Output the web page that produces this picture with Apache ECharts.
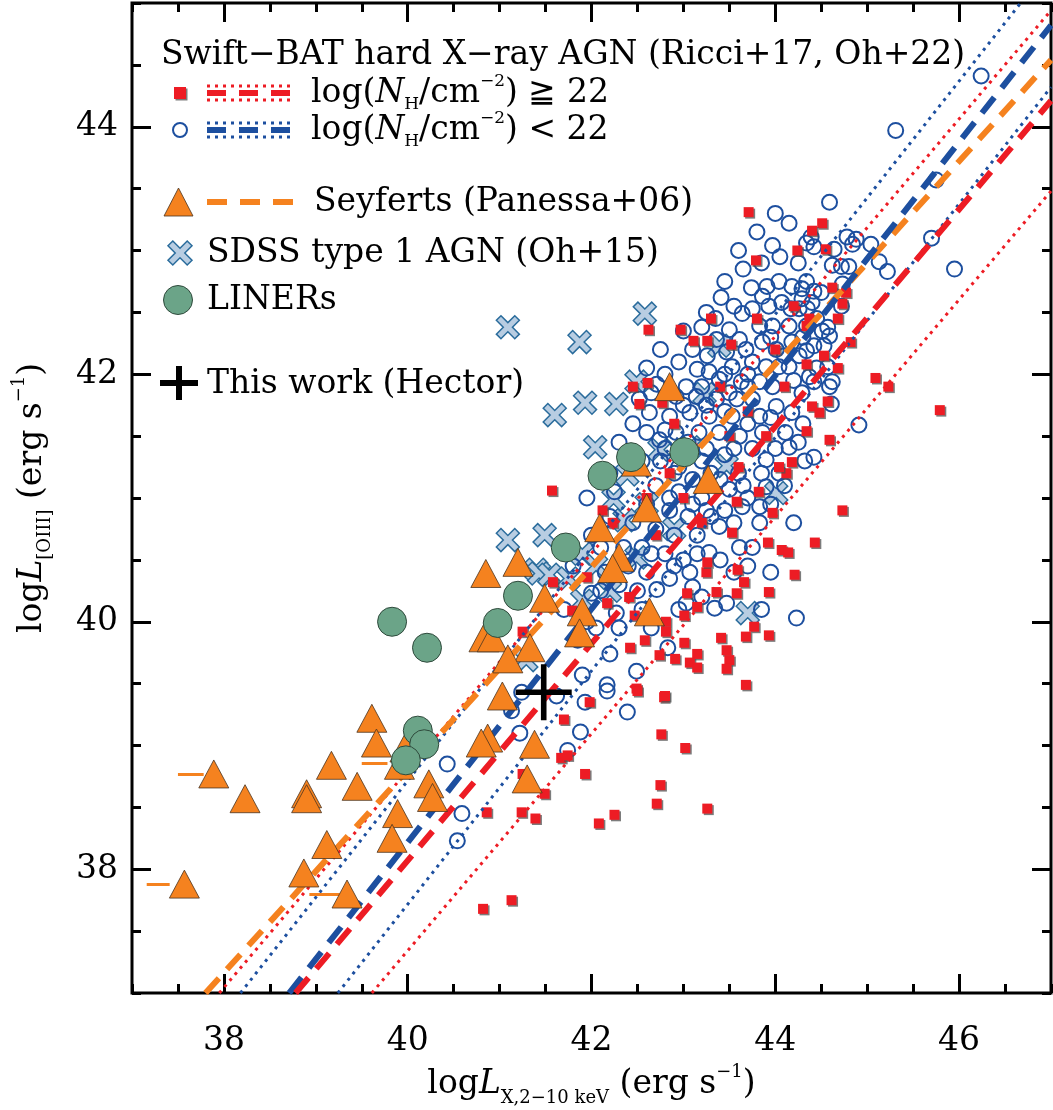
<!DOCTYPE html>
<html><head><meta charset="utf-8">
<script src="https://cdn.jsdelivr.net/npm/echarts@6/dist/echarts.min.js"></script>
<style>html,body{margin:0;padding:0;background:#fff}#c{width:1053px;height:1110px}</style>
</head><body><div id="c"></div>
<script>
const xTicks=[38,40,42,44,46];
const yTicks=[38,40,42,44];
const seyferts=[[42.85,41.90],[42.49,41.29],[43.27,41.15],[42.60,40.92],[42.09,40.76],[42.30,40.52],[42.23,40.43],[41.90,40.08],[41.87,39.91],[42.63,40.08],[41.20,40.48],[40.85,40.39],[41.49,40.19],[40.83,39.87],[40.92,39.87],[41.33,39.79],[41.09,39.70],[41.03,39.40],[39.61,39.22],[39.66,39.02],[39.97,38.98],[39.91,38.84],[40.87,39.06],[40.80,39.02],[41.38,39.01],[41.30,38.73],[37.89,38.77],[38.23,38.57],[38.90,38.61],[38.90,38.57],[39.17,38.84],[39.45,38.67],[40.23,38.69],[40.27,38.58],[39.89,38.45],[39.83,38.25],[39.12,38.20],[38.87,37.97],[39.34,37.80],[37.57,37.88]];
const seyfertLimits=[[37.50,37.78,38.77],[37.16,37.41,37.88],[38.93,39.26,37.80],[39.50,39.78,38.86]];
const liners=[[39.83,40.00],[40.21,39.79],[41.20,40.21],[40.98,39.99],[40.11,39.12],[40.18,39.01],[39.98,38.88],[42.43,41.33],[42.12,41.18],[41.72,40.60],[43.01,41.37]];
const sdss=[[41.09,42.38],[41.87,42.26],[42.58,42.49],[41.60,41.67],[41.93,41.77],[42.27,41.76],[42.49,41.94],[42.04,41.41],[42.39,41.19],[42.24,40.99],[41.09,40.66],[41.49,40.70],[41.40,40.42],[41.90,40.17],[42.49,40.52],[42.74,41.39],[43.39,42.23],[44.01,41.04],[43.70,40.07],[43.47,41.26],[43.23,41.84],[43.07,41.41],[42.36,40.82],[41.43,40.39],[41.54,40.38],[41.29,39.69],[41.90,40.55],[42.05,40.45],[42.60,40.95],[42.90,40.75],[42.20,40.25],[41.75,40.35]];
const obscured=[[43.71,43.31],[44.24,43.00],[43.79,42.92],[42.62,42.36],[43.11,42.27],[43.26,42.27],[42.45,41.90],[42.61,41.93],[42.77,41.77],[42.52,41.76],[43.52,42.24],[42.97,42.36],
[44.51,43.22],[44.40,43.16],[44.55,43.01],[44.62,42.70],[44.77,42.66],[44.73,42.57],[44.68,42.45],[44.37,42.45],[44.34,42.39],[44.82,42.26],[44.53,42.15],[44.34,42.08],[44.68,42.05],[45.09,41.97],[45.23,41.90],[45.79,41.71],[44.40,41.74],[44.48,41.69],[44.57,41.78],[44.34,41.54],[44.59,41.47],
[44.73,40.90],[44.43,40.64],[44.21,40.38],[43.92,40.64],[44.07,40.58],[44.14,40.56],[43.82,41.05],[43.97,40.88],[44.18,41.29],[44.12,41.20],[43.66,40.32],[43.59,40.42],[43.58,40.23],[43.93,40.24],[43.77,39.96],[43.93,39.89],[43.68,39.88],[43.41,39.87],[43.47,39.77],[43.50,39.69],[43.47,39.62],[43.15,39.74],[43.07,39.67],[43.15,39.63],[42.91,39.70],[43.01,39.83],[42.74,39.73],[42.58,39.85],[42.42,39.79],[43.68,39.49],[43.15,40.12],[43.36,40.24],[43.25,40.40],[43.26,40.48],[43.04,40.23],[43.01,40.05],[42.81,40.00],[42.47,40.05],[43.53,40.72],[43.58,40.97],[44.04,41.25],[42.81,39.92],[42.49,39.46],[42.79,39.39],[41.95,40.36],[42.17,40.15],[42.41,40.20],
[42.80,39.40],[42.76,39.09],[43.02,38.98],[41.93,38.77],[42.75,38.68],[42.71,38.53],[43.26,38.49],[42.25,38.44],[42.08,38.37],[41.70,39.21],[41.98,39.35],[41.67,38.90],[42.50,39.44],
[40.82,37.68],[41.13,37.75],[41.49,38.61],[41.24,38.46],[41.39,38.41],[40.86,38.46],[41.74,38.92],[41.25,38.77],[41.25,39.92],[41.58,40.32],[41.79,40.09],[41.57,41.06],[42.12,40.90],[42.23,40.80],
[42.90,41.60],[43.10,41.40],[43.30,41.10],[43.50,41.50],[43.00,41.00],[42.70,40.70],[43.20,40.80],[43.70,41.70],[43.90,41.50],[44.10,41.90],[43.40,41.90],[42.85,41.20],[42.60,41.00],[43.60,41.25],[44.00,42.20],[43.80,42.45],[44.20,42.55],[43.30,42.45]];
const unobscured=[[44.15,43.22],[43.97,43.04],[44.34,43.06],[43.74,42.70],[43.86,42.63],[43.91,42.71],[44.04,42.75],[44.18,42.71],[44.29,42.69],[43.41,42.62],[43.25,42.50],[43.64,42.49],[43.75,42.53],[43.93,42.55],[44.07,42.58],[44.17,42.53],[44.26,42.53],[43.50,42.36],[43.83,42.39],[43.97,42.39],[44.15,42.39],[44.34,42.39],[43.36,42.28],[43.61,42.28],[43.68,42.20],[43.86,42.26],[44.01,42.20],[44.18,42.26],[44.26,42.15],[43.26,42.15],[43.47,42.18],[43.53,42.06],[43.75,42.10],[43.90,42.06],[44.04,42.06],[44.15,42.06],[43.28,42.02],[43.15,42.04],[43.39,41.96],[43.63,41.94],[43.83,41.94],[43.97,41.90],[43.03,41.90],[42.92,41.82],[43.14,41.82],[43.36,41.80],[43.58,41.80],[43.75,41.80],[42.71,41.92],[42.52,41.80],[42.63,41.69],[42.85,41.66],[43.07,41.69],[43.28,41.66],[43.53,41.66],[43.83,41.66],[44.01,41.74],[44.18,41.69],[42.92,41.53],[43.17,41.53],[43.39,41.53],[43.61,41.50],[43.86,41.53],[44.11,41.53],[42.74,41.47],[42.60,41.53],
[44.23,40.03],[43.03,40.15],[43.34,40.11],[43.47,40.15],[43.10,40.28],[42.71,40.26],[42.27,40.07],[42.20,39.74],[42.49,39.60],[42.83,39.79],[42.17,39.49],[41.90,39.57],[42.00,40.23],[43.64,40.93],[43.83,40.93],[43.61,40.60],[43.28,40.56],[43.07,40.40],[43.83,40.80],[43.90,41.31],[43.50,41.07],[43.39,40.77],
[42.80,41.40],[43.00,41.35],[43.20,41.30],[42.90,41.20],[43.10,41.15],[43.30,41.20],[42.70,41.10],[42.95,41.05],[43.20,41.00],[42.60,40.95],[42.85,40.90],[43.05,40.85],[43.25,40.90],[42.45,40.80],[42.70,40.75],[42.90,40.70],[43.15,40.70],[42.35,40.60],[42.55,40.60],[42.80,40.55],[43.00,40.50],[42.40,40.45],[42.60,40.40],[42.85,40.35],[42.30,40.30],[42.50,40.25],[43.45,41.35],[43.60,41.20],[43.70,41.00],[43.45,40.90],[43.55,40.40],[43.75,40.60],[42.20,40.85],[42.10,40.60],[42.15,40.40],
[44.59,43.39],[44.39,43.11],[44.42,43.03],[44.64,43.01],[44.78,43.11],[44.88,43.09],[44.84,43.05],[45.04,43.05],[44.62,42.88],[44.72,42.87],[44.80,42.87],[45.13,42.91],[45.22,42.83],[44.73,42.73],[44.34,42.75],[44.42,42.67],[44.50,42.66],[44.29,42.61],[44.40,42.58],[44.35,42.53],[44.72,42.55],[44.57,42.38],[44.59,42.31],[44.51,42.35],[44.45,42.45],[44.42,42.23],[44.53,42.23],[44.34,42.19],[44.57,42.06],[44.37,41.98],[44.42,41.94],[44.62,41.94],[44.59,41.90],[44.29,41.85],[44.61,41.76],[44.91,41.59],[44.42,41.33],
[44.15,41.41],[44.32,41.30],[44.04,41.20],[43.90,41.09],
[46.24,44.41],[45.31,43.97],[45.75,43.57],[45.70,43.10],[45.95,42.85],
[40.43,38.85],[40.59,38.45],[40.54,38.23],[41.22,39.10],[41.13,39.28],[41.24,39.43],[41.62,39.40],[41.74,38.96],[41.93,39.35],[42.39,39.27],[41.88,39.11],[42.17,39.44],[41.85,39.85],[41.70,40.10],[42.05,39.95],
[42.30,41.45],[42.45,41.60],[42.20,41.20],[42.55,41.30],
[42.65,41.85],[42.80,42.00],[42.95,42.10],[43.10,42.20],[43.00,42.35],[43.20,42.38],[43.55,42.55],[43.45,42.75],[43.65,42.85],[43.85,42.90],[44.05,42.95],[44.25,42.90],[43.60,43.00],[43.80,43.15],[44.00,43.30],[42.75,42.20],[42.60,42.05],[43.35,42.45],
[43.45,42.00],[43.70,42.00],[44.10,42.15],[44.30,42.30],[43.95,42.30],[43.20,41.90],[43.50,41.85],[43.70,41.90],[44.20,41.95],[44.45,42.05],
[43.00,41.75],[43.25,41.75],[43.45,41.70],[43.70,41.60],[43.95,41.65],[44.30,41.60],[42.80,41.55],[43.05,41.45],[43.25,41.40],[43.55,41.40],[43.75,41.40],[44.00,41.40],[44.25,41.45],
[42.75,41.30],[42.95,41.25],[43.40,41.15],[43.65,41.10],[43.85,41.20],[44.10,41.10],[42.85,41.00],[43.10,40.95],[43.30,40.85],[43.55,40.80],[43.95,40.95],[44.20,40.80],[42.65,40.55],[42.90,40.45],[43.15,40.55],[43.40,40.50],[43.70,40.45],[43.95,40.40],[42.55,40.10],[42.95,40.10],[43.20,40.20],[43.85,40.10],[42.30,39.95],[42.65,39.95],
[41.95,40.00],[42.10,40.25],[41.80,40.45],[42.00,40.70],[42.25,41.05],[41.95,41.00]];
const hector=[[41.48,39.43]];
const panessaFit=[[37.80,37.00],[47.00,44.54]];
const unobsFit=[[38.71,37.00],[47.00,44.82]];
const unobsUpper=[[38.18,37.00],[46.67,45.00]];
const unobsLower=[[39.24,37.00],[47.00,44.32]];
const obsFit=[[38.78,37.00],[47.00,44.21]];
const obsUpper=[[37.95,37.00],[47.00,44.94]];
const obsLower=[[39.61,37.00],[47.00,43.48]];

const RED='#ed1c24', BLUE='#1d4f9f', ORANGE='#f5821f', GREEN='#6ba488', XFILL='#b8cde2', XLINE='#2a6c9c';
const FONT='DejaVu Serif';
const crossPath='path://M20 0 L50 30 L80 0 L100 20 L70 50 L100 80 L80 100 L50 70 L20 100 L0 80 L30 50 L0 20 Z';
const plusPath='path://M45 0 H55 V45 H100 V55 H55 V100 H45 V55 H0 V45 H45 Z';

const chart=echarts.init(document.getElementById('c'),null,{renderer:'canvas'});
const richAx={
  n:{fontFamily:FONT,fontSize:33,color:'#000'},
  i:{fontFamily:FONT,fontSize:33,fontStyle:'italic',color:'#000'},
  s:{fontFamily:FONT,fontSize:18,color:'#000',verticalAlign:'bottom',lineHeight:18},
  p:{fontFamily:FONT,fontSize:18,color:'#000',verticalAlign:'top',lineHeight:18}
};
function majorX(pos,name){return {type:'value',position:pos,min:37,max:47,
  axisLine:{show:false},splitLine:{show:false},
  axisTick:{show:true,inside:true,length:19,customValues:xTicks,lineStyle:{color:'#000',width:3}},
  axisLabel:{show:pos==='bottom',customValues:xTicks,margin:32,fontFamily:FONT,fontSize:33,color:'#000'},
  name:name||'',nameLocation:'middle',nameGap:64,nameTextStyle:{rich:richAx,lineHeight:44}};}
function minorX(pos){return {type:'value',position:pos,min:37,max:47,interval:0.5,
  axisLine:{show:false},splitLine:{show:false},axisLabel:{show:false},
  axisTick:{show:true,inside:true,length:9,lineStyle:{color:'#000',width:3}}};}
function majorY(pos,name){return {type:'value',position:pos,min:37,max:45,
  axisLine:{show:false},splitLine:{show:false},
  axisTick:{show:true,inside:true,length:19,customValues:yTicks,lineStyle:{color:'#000',width:3}},
  axisLabel:{show:pos==='left',customValues:yTicks,margin:14,fontFamily:FONT,fontSize:33,color:'#000'},
  name:name||'',nameLocation:'middle',nameGap:78,nameRotate:90,nameTextStyle:{rich:richAx,lineHeight:44}};}
function minorY(pos){return {type:'value',position:pos,min:37,max:45,interval:0.5,
  axisLine:{show:false},splitLine:{show:false},axisLabel:{show:false},
  axisTick:{show:true,inside:true,length:9,lineStyle:{color:'#000',width:3}}};}

function fitLine(data,color,width,dash,z){return {type:'line',data:data,xAxisIndex:0,yAxisIndex:0,showSymbol:false,symbol:'none',clip:true,silent:true,z:z,
  lineStyle:{color:color,width:width,type:dash,cap:'butt',opacity:1}};}

const DOT=[3,5], DASH=[20,12];
const series=[
  {type:'scatter',name:'SDSS',data:sdss,symbol:crossPath,symbolSize:23,z:2,
    itemStyle:{color:XFILL,borderColor:XLINE,borderWidth:1.5,opacity:1}},
  {type:'scatter',name:'unobs',data:unobscured,symbol:'circle',symbolSize:15,z:3,
    itemStyle:{color:'rgba(0,0,0,0)',borderColor:BLUE,borderWidth:2,opacity:1}},
  {type:'scatter',name:'obs',data:obscured,symbol:'rect',symbolSize:10,z:4,
    itemStyle:{color:RED,opacity:1,shadowColor:'rgba(80,80,80,0.75)',shadowOffsetX:1.5,shadowOffsetY:1.5,shadowBlur:0}},
  fitLine(unobsUpper,BLUE,3,DOT,5),
  fitLine(unobsLower,BLUE,3,DOT,5),
  fitLine(obsUpper,RED,3,DOT,5),
  fitLine(obsLower,RED,3,DOT,5),
  fitLine(panessaFit,ORANGE,6,DASH,6),
  fitLine(unobsFit,BLUE,6,DASH,6),
  fitLine(obsFit,RED,6,DASH,6),
  {type:'lines',coordinateSystem:'cartesian2d',xAxisIndex:0,yAxisIndex:0,z:7,silent:true,
    data:seyfertLimits.map(d=>({coords:[[d[0],d[2]],[d[1],d[2]]]})),
    lineStyle:{color:ORANGE,width:3,opacity:1}},
  {type:'scatter',name:'Seyferts',data:seyferts,symbol:'triangle',symbolSize:[30,28],z:8,
    itemStyle:{color:ORANGE,borderColor:'#4a3320',borderWidth:0.8,opacity:1}},
  {type:'scatter',name:'LINERs',data:liners,symbol:'circle',symbolSize:29,z:9,
    itemStyle:{color:GREEN,borderColor:'#2f4a3c',borderWidth:1,opacity:1}},
  {type:'scatter',name:'Hector',data:hector,symbol:plusPath,symbolSize:56,z:10,
    itemStyle:{color:'#000',opacity:1}}
];

function crossPts(cx,cy,s){const p=[[20,0],[50,30],[80,0],[100,20],[70,50],[100,80],[80,100],[50,70],[20,100],[0,80],[30,50],[0,20]];
  return p.map(q=>[cx+(q[0]-50)*s/100,cy+(q[1]-50)*s/100]);}
const LFS=33;
const richLeg={
  i:{fontFamily:FONT,fontSize:LFS,fontStyle:'italic',color:'#000'},
  s:{fontFamily:FONT,fontSize:17,color:'#000',verticalAlign:'bottom',lineHeight:17},
  p:{fontFamily:FONT,fontSize:17,color:'#000',verticalAlign:'top',lineHeight:17}
};
function legText(x,y,t,rich){return {type:'text',x:x,y:y,z:100,silent:true,
  style:{text:t,fontFamily:FONT,fontSize:LFS,fill:'#000',align:'left',verticalAlign:'middle',rich:rich||undefined,lineHeight:40}};}
function hline(x1,x2,y,color,w,dash){return {type:'line',z:100,silent:true,shape:{x1:x1,y1:y,x2:x2,y2:y},style:{stroke:color,lineWidth:w,lineDash:dash}};}
const graphic=[
  legText(161,55,'Swift−BAT hard X−ray AGN (Ricci+17, Oh+22)'),
  {type:'rect',z:100,shape:{x:174,y:87,width:12,height:12},style:{fill:RED,shadowColor:'rgba(80,80,80,0.75)',shadowOffsetX:1.5,shadowOffsetY:1.5}},
  hline(207,293,86,RED,3,DOT),hline(207,293,93,RED,6,[19,13]),hline(207,293,100,RED,3,DOT),
  legText(311,93,'log({i|N}{s|H}/cm{p|−2}) ≧ 22',richLeg),
  {type:'circle',z:100,shape:{cx:180,cy:130,r:7},style:{fill:'none',stroke:BLUE,lineWidth:2}},
  hline(207,293,123,BLUE,3,DOT),hline(207,293,130,BLUE,6,[19,13]),hline(207,293,137,BLUE,3,DOT),
  legText(311,130,'log({i|N}{s|H}/cm{p|−2}) < 22',richLeg),
  {type:'polygon',z:100,shape:{points:[[164,216],[193,216],[178.5,188]]},style:{fill:ORANGE,stroke:'#4a3320',lineWidth:0.8}},
  hline(207,293,202,ORANGE,6,[20,13]),
  legText(314,202,'Seyferts (Panessa+06)'),
  {type:'polygon',z:100,shape:{points:crossPts(180,253,24)},style:{fill:XFILL,stroke:XLINE,lineWidth:1.5}},
  legText(207,253,'SDSS type 1 AGN (Oh+15)'),
  {type:'circle',z:100,shape:{cx:178,cy:300,r:14.5},style:{fill:GREEN,stroke:'#2f4a3c',lineWidth:1}},
  legText(207,300,'LINERs'),
  {type:'rect',z:100,shape:{x:160,y:380,width:38,height:6},style:{fill:'#000'}},
  {type:'rect',z:100,shape:{x:176,y:366,width:6,height:34},style:{fill:'#000'}},
  legText(207,384,'This work (Hector)')
];

chart.setOption({
  animation:false,
  backgroundColor:'#fff',
  grid:{left:132,right:2,top:3,bottom:117,containLabel:false,outerBoundsMode:'none',show:true,borderColor:'#000',borderWidth:3,backgroundColor:'transparent'},
  xAxis:[majorX('bottom','{n|log}{i|L}{s|X,2−10 keV}{n| (erg s}{p|−1}{n|)}'),minorX('bottom'),majorX('top'),minorX('top')],
  yAxis:[majorY('left','{n|log}{i|L}{s|[OIII]}{n| (erg s}{p|−1}{n|)}'),minorY('left'),majorY('right'),minorY('right')],
  series:series,
  graphic:graphic
});
</script></body></html>
